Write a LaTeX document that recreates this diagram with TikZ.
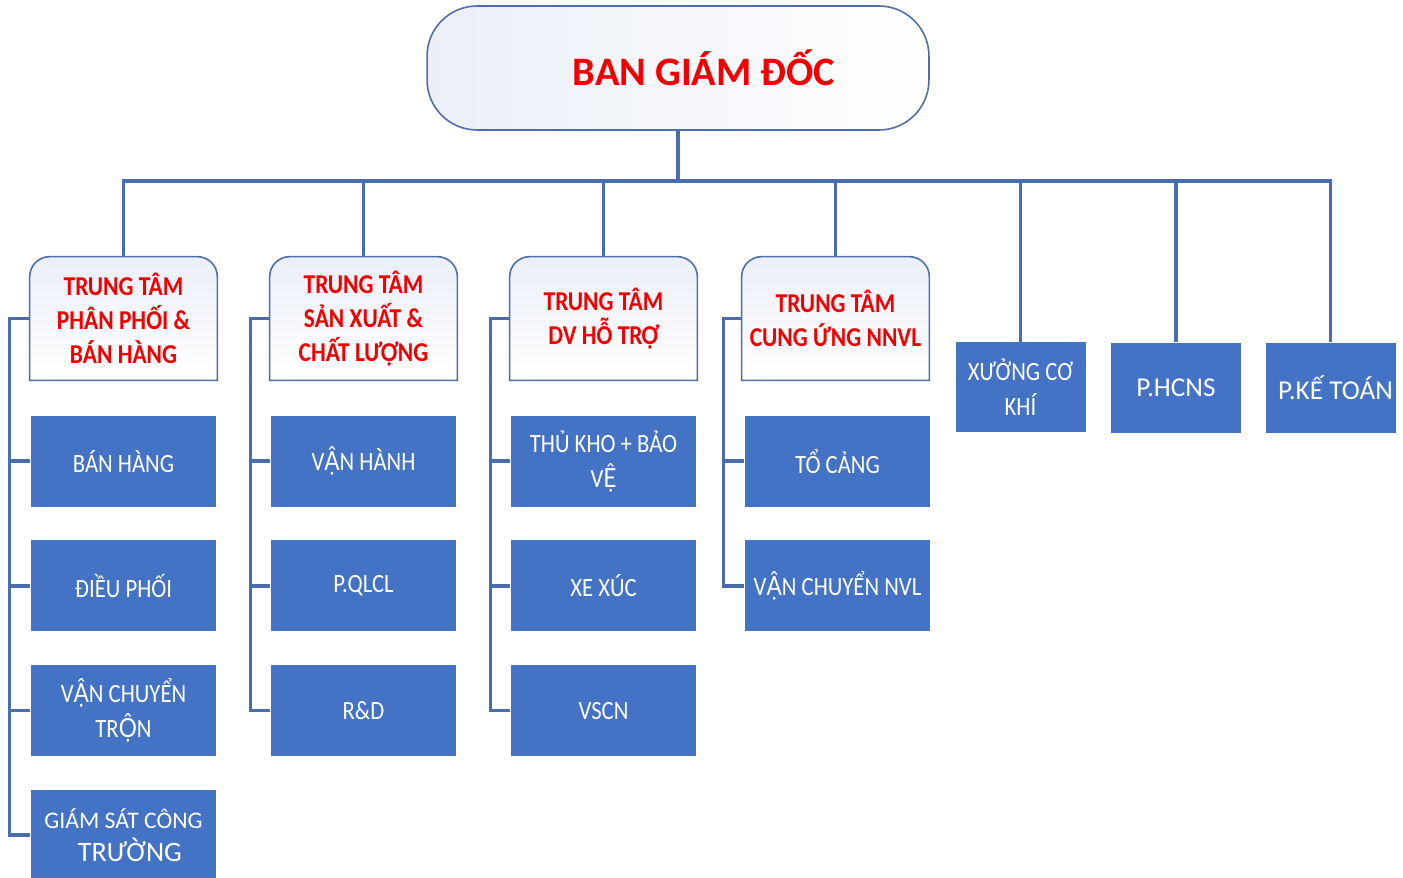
\documentclass[tikz,border=0pt]{standalone}
\usepackage{fontspec}
\setmainfont{Carlito}
\newfontfamily\narrowfont[FakeStretch=0.86]{Carlito}
\newfontfamily\latonarrow[FakeStretch=0.86]{Lato}
\newcommand\vn[1]{{\latonarrow #1}}
\usetikzlibrary{positioning, backgrounds, calc}
\definecolor{linkblue}{HTML}{4A6DB0}
\definecolor{boxblue}{HTML}{4472C4}
\definecolor{frameblue}{HTML}{4F6EA8}
\definecolor{paleblue}{HTML}{EBEFF7}
\definecolor{titlered}{HTML}{F20000}
\tikzset{%
	boss/.style={draw=frameblue, line width=0.9pt, rounded corners=1cm,
		minimum width=10.04cm, minimum height=2.48cm, left color=paleblue, right color=white,
		text=titlered, font=\fontsize{23}{28}\selectfont\bfseries},
	centre/.style={minimum width=3.74cm, minimum height=2.46cm, inner sep=0mm, align=center,
		text=titlered, font=\narrowfont\fontsize{15.5}{19.3}\selectfont\bfseries},
	centreframe/.style={draw=frameblue, line width=0.9pt, top color=paleblue, bottom color=white},
	unit/.style={rectangle, fill=boxblue, minimum width=3.72cm, minimum height=1.82cm,
		inner sep=0mm, align=center, text=white, font=\narrowfont\fontsize{15}{19.8}\selectfont},
	dept/.style={unit, minimum width=2.6cm, minimum height=1.8cm},
	link/.style={draw=linkblue, line width=2pt}
}
\begin{document}
\begin{tikzpicture}[x=0.02cm, y=-0.02cm, node distance=0.66cm]
	\useasboundingbox (0,0) rectangle (1403,877);
	\node[boss] (bgd) at (678,68) {\hspace*{1.04cm}BAN GIÁM ĐỐC};
	% trung tam
	\node[centre] (tt-pp) at (123.5,318.5) {TRUNG TÂM\\PHÂN PHỐI \&\\BÁN HÀNG};
	\node[centre] (tt-sx) at (363.5,318.5) {TRUNG TÂM\\SẢN XUẤT \&\\CHẤT LƯỢNG};
	\node[centre] (tt-dv) at (603.5,318.5) {TRUNG TÂM\\DV HỖ TRỢ};
	\node[centre] (tt-cu) at (835.5,318.5) {TRUNG TÂM\\CUNG ỨNG NNVL};
	\begin{scope}[on background layer]
		\foreach \h in {tt-pp,tt-sx,tt-dv,tt-cu}
			\draw[centreframe] (\h.south west) [rounded corners=0.4cm] -- (\h.north west)
				-- (\h.north east) [sharp corners] -- (\h.south east) -- cycle;
	\end{scope}
	% phong ban
	\node[dept] (xck) at (1020.5,387) {XƯỞNG CƠ\\KHÍ};
	\node[dept, font=\fontsize{15.5}{19}\selectfont] (hcns) at (1176,387.5) {P.HCNS};
	\node[dept, font=\fontsize{15.5}{19}\selectfont] (kt) at (1330.5,387.5) {\hspace*{0.2cm}P.KẾ TOÁN};
	% cot 1
	\node[unit, below=0.7cm of tt-pp] (bh) {BÁN HÀNG};
	\node[unit, below=of bh] (dp) {ĐIỀU PHỐI};
	\node[unit, below=of dp] (vct) {V\vn{Ậ}N CHUYỂN\\TR\vn{Ộ}N};
	\node[unit, below=of vct, font=\fontsize{14}{18.5}\selectfont] (gs)
		{{\fontsize{13.5}{16}\selectfont GIÁM SÁT CÔNG}\\{\fontsize{16}{19}\selectfont\ \ TRƯỜNG}};
	% cot 2
	\node[unit, below=0.7cm of tt-sx] (vh) {V\vn{Ậ}N HÀNH};
	\node[unit, below=of vh] (qlcl) {P.QLCL};
	\node[unit, below=of qlcl] (rd) {R\&D};
	% cot 3
	\node[unit, below=0.7cm of tt-dv] (tk) {THỦ KHO + BẢO\\V\vn{Ệ}};
	\node[unit, below=of tk] (xx) {XE XÚC};
	\node[unit, below=of xx] (vscn) {VSCN};
	% cot 4
	\node[unit, below=0.7cm of tt-cu, xshift=0.04cm] (tc) {TỔ CẢNG};
	\node[unit, below=of tc] (vcn) {V\vn{Ậ}N CHUYỂN NVL};
	% connectors
	\coordinate (bus) at (678,181);
	\foreach \t in {tt-pp,tt-sx,tt-dv,tt-cu,xck,hcns,kt}
		\draw[link] (bgd.south) |- (bus) -| (\t.north);
	\foreach \s in {bh,dp,vct,gs}
		\draw[link] (tt-pp.west) -- ++(-20,0) |- (\s.west);
	\foreach \s in {vh,qlcl,rd}
		\draw[link] (tt-sx.west) -- ++(-19,0) |- (\s.west);
	\foreach \s in {tk,xx,vscn}
		\draw[link] (tt-dv.west) -- ++(-19,0) |- (\s.west);
	\foreach \s in {tc,vcn}
		\draw[link] (tt-cu.west) -- ++(-18,0) |- (\s.west);
\end{tikzpicture}
\end{document}
